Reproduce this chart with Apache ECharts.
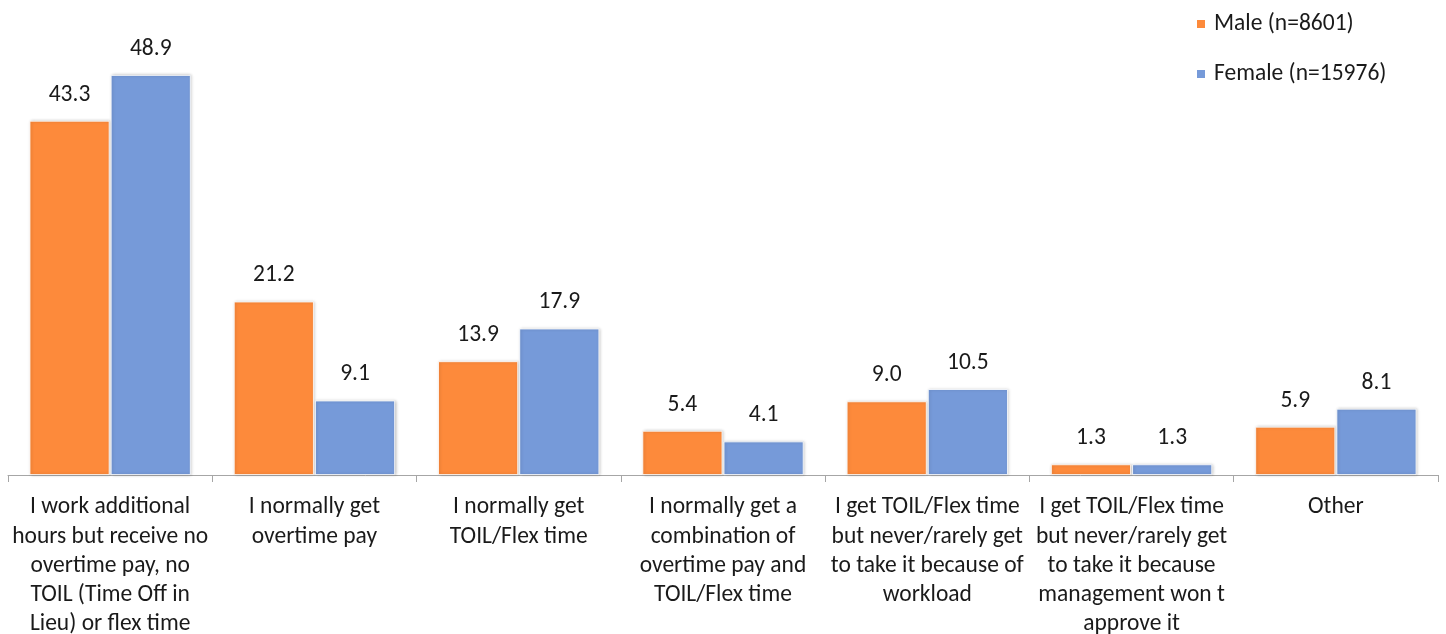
<!DOCTYPE html>
<html>
<head>
<meta charset="utf-8">
<script src="https://cdn.jsdelivr.net/npm/echarts@6/dist/echarts.min.js"></script>
<style>
  html, body { margin: 0; padding: 0; background: #ffffff; }
  #chart { width: 1446px; height: 634px; }
</style>
</head>
<body>
<div id="chart"></div>
<script>
// Answer categories (line breaks as they wrap under the axis)
const categories = [
  'I work additional\nhours but receive no\novertime pay, no\nTOIL (Time Off in\nLieu) or flex time',
  'I normally get\novertime pay',
  'I normally get\nTOIL/Flex time',
  'I normally get a\ncombination of\novertime pay and\nTOIL/Flex time',
  'I get TOIL/Flex time\nbut never/rarely get\nto take it because of\nworkload',
  'I get TOIL/Flex time\nbut never/rarely get\nto take it because\nmanagement won t\napprove it',
  'Other'
];

// Percentages by gender
const maleName = 'Male (n=8601)';
const femaleName = 'Female (n=15976)';
const maleValues = [43.3, 21.2, 13.9, 5.4, 9.0, 1.3, 5.9];
const femaleValues = [48.9, 9.1, 17.9, 4.1, 10.5, 1.3, 8.1];

const FONT = 'Carlito, Lato, "Liberation Sans", sans-serif';
const FONT_SIZE = 23.5;
const TEXT = '#1a1a1a';

const chart = echarts.init(document.getElementById('chart'), null, { renderer: 'canvas' });

const barStyle = (color) => ({
  color: color,
  borderColor: '#ffffff',
  borderWidth: 0.8,
  shadowColor: 'rgba(0,0,0,0.22)',
  shadowBlur: 3,
  shadowOffsetX: 1,
  shadowOffsetY: 0
});

const valueLabel = {
  show: true,
  position: 'top',
  distance: 14,
  fontFamily: FONT,
  fontSize: FONT_SIZE,
  color: TEXT,
  formatter: (p) => p.value.toFixed(1)
};

chart.setOption({
  backgroundColor: '#ffffff',
  animation: false,
  grid: { left: 8, right: 8, top: 66, bottom: 159, containLabel: false, outerBoundsMode: 'none' },
  legend: {
    orient: 'vertical',
    left: 1195,
    top: 10,
    padding: 0,
    itemWidth: 10,
    itemHeight: 10,
    itemGap: 22,
    icon: 'rect',
    textStyle: {
      fontFamily: FONT,
      fontSize: FONT_SIZE,
      lineHeight: 28,
      color: TEXT,
      padding: [0, 0, 0, 3]
    },
    data: [maleName, femaleName]
  },
  xAxis: {
    type: 'category',
    data: categories,
    boundaryGap: true,
    axisLine: { show: true, lineStyle: { color: '#a6a6a6', width: 1 } },
    axisTick: { show: true, length: 7, alignWithLabel: false, lineStyle: { color: '#a6a6a6' } },
    axisLabel: {
      interval: 0,
      margin: 18,
      fontFamily: FONT,
      fontSize: FONT_SIZE,
      lineHeight: 29.2,
      color: TEXT,
      align: 'center',
      verticalAlign: 'top',
      hideOverlap: false
    }
  },
  yAxis: {
    type: 'value',
    min: 0,
    max: 50,
    show: false,
    splitLine: { show: false }
  },
  series: [
    {
      name: maleName,
      type: 'bar',
      data: maleValues,
      barWidth: 80,
      barGap: '1.5%',
      itemStyle: barStyle('#fd8a3b'),
      label: valueLabel
    },
    {
      name: femaleName,
      type: 'bar',
      data: femaleValues,
      barWidth: 80,
      itemStyle: barStyle('#769ad9'),
      label: valueLabel
    }
  ]
});
</script>
</body>
</html>
